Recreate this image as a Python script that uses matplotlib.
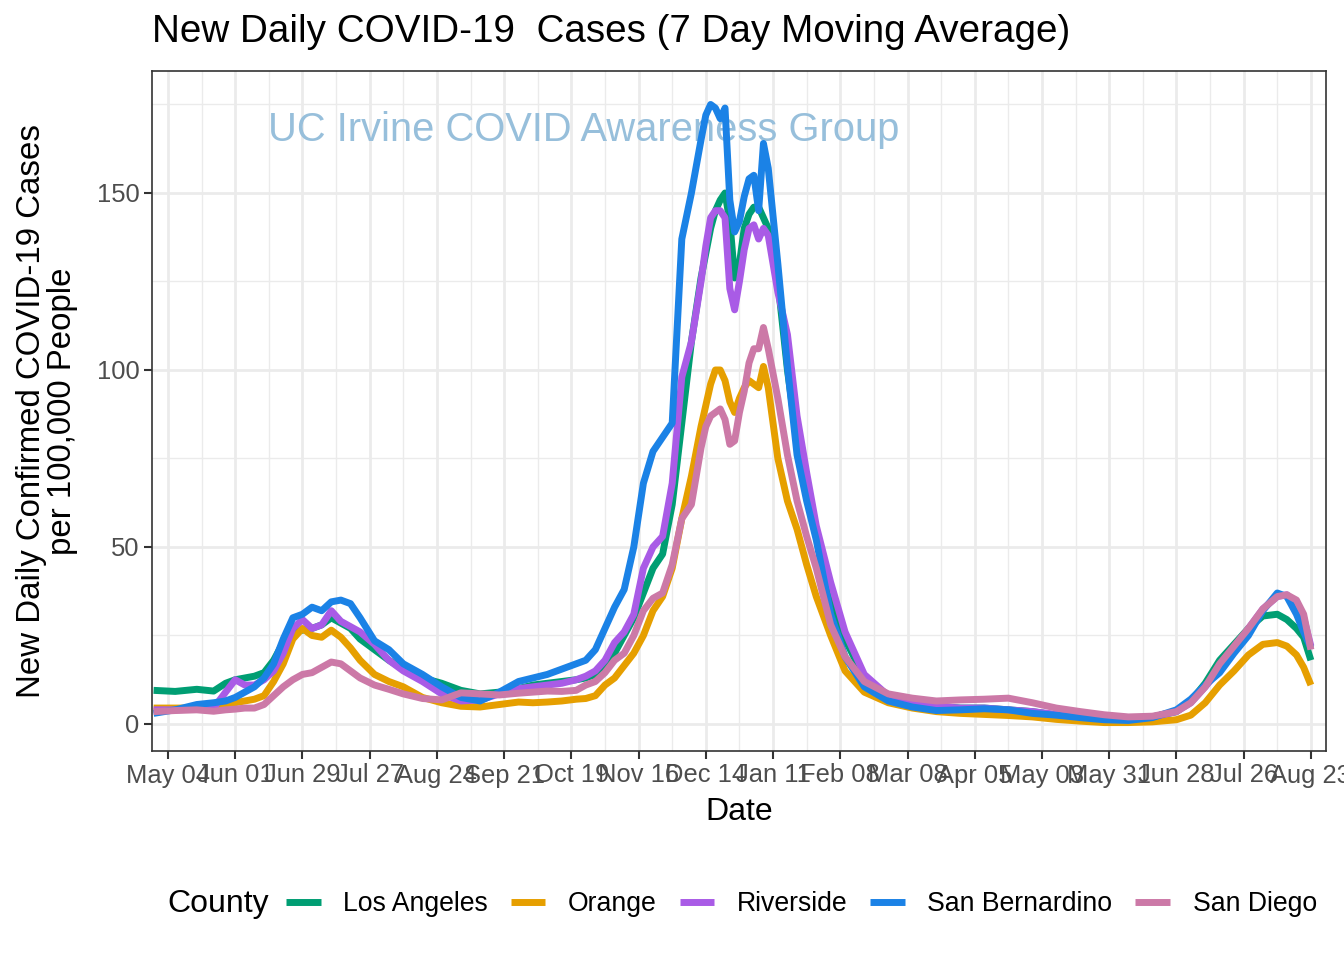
import numpy as np
import pandas as pd
import matplotlib
matplotlib.use("Agg")
import matplotlib.pyplot as plt
import matplotlib.dates as mdates

plt.rcParams['font.family'] = ['Liberation Sans', 'DejaVu Sans']

# 7-day moving average of new daily cases per 100,000 people
dates = [
    "2020-04-28", "2020-05-07", "2020-05-16", "2020-05-23", "2020-05-28", "2020-06-01",
    "2020-06-05", "2020-06-09", "2020-06-13", "2020-06-17", "2020-06-21", "2020-06-25",
    "2020-06-29", "2020-07-03", "2020-07-07", "2020-07-11", "2020-07-15", "2020-07-19",
    "2020-07-23", "2020-07-29", "2020-08-04", "2020-08-10", "2020-08-18", "2020-08-26",
    "2020-09-03", "2020-09-11", "2020-09-19", "2020-09-27", "2020-10-03", "2020-10-09",
    "2020-10-15", "2020-10-21", "2020-10-25", "2020-10-29", "2020-11-02", "2020-11-06",
    "2020-11-10", "2020-11-14", "2020-11-18", "2020-11-22", "2020-11-26", "2020-11-30",
    "2020-12-04", "2020-12-08", "2020-12-12", "2020-12-14", "2020-12-16", "2020-12-18",
    "2020-12-20", "2020-12-22", "2020-12-24", "2020-12-26", "2020-12-28", "2020-12-30",
    "2021-01-01", "2021-01-03", "2021-01-05", "2021-01-07", "2021-01-09", "2021-01-13",
    "2021-01-17", "2021-01-21", "2021-01-25", "2021-01-29", "2021-02-04", "2021-02-10",
    "2021-02-18", "2021-02-28", "2021-03-10", "2021-03-20", "2021-03-30", "2021-04-09",
    "2021-04-19", "2021-04-29", "2021-05-09", "2021-05-19", "2021-05-29", "2021-06-08",
    "2021-06-18", "2021-06-28", "2021-07-04", "2021-07-10", "2021-07-16", "2021-07-22",
    "2021-07-28", "2021-08-03", "2021-08-09", "2021-08-13", "2021-08-17", "2021-08-20",
    "2021-08-23",
]

los_angeles = [
    9.5, 9.2, 9.8, 9.3, 11.5, 12.5, 13.0, 13.5, 14.5, 18, 23, 26,
    26.5, 27, 28, 30, 28.5, 27, 24, 21, 18, 15.5, 13, 11.5,
    9.5, 8.5, 9, 10, 11, 11.5, 12, 12.5, 13, 14, 17, 20,
    25, 30, 37, 44, 48, 62, 85, 108, 126, 133, 140, 145,
    148, 150, 142, 126, 130, 140, 144, 146, 146, 143, 140, 125,
    100, 80, 66, 54, 36, 24, 13, 8, 6, 5, 4.5, 4.5,
    4, 3.5, 2.5, 2, 1.7, 1.6, 2, 3.5, 6.5, 11.5, 18, 22.5,
    27, 30.5, 31, 29.5, 27, 24.5, 18,
]

orange = [
    4.5, 4.5, 4.5, 4.5, 5, 6, 6.5, 7, 8, 12, 17, 24,
    27, 25, 24.5, 26.5, 24.5, 21.5, 18, 14, 12, 10.5, 7.5, 6,
    5, 4.8, 5.5, 6.2, 6, 6.2, 6.5, 7, 7.2, 8, 11, 13,
    16.5, 20, 25, 32, 36, 44, 58, 70, 84, 90, 96, 100,
    100, 97, 91, 88, 92, 95, 97, 96, 95, 101, 95, 75,
    63, 55, 45, 36, 25, 15, 9, 6, 4.5, 3.5, 3, 2.7,
    2.4, 2, 1.3, 0.8, 0.4, 0.4, 0.6, 1.2, 2.5, 6, 11, 15,
    19.5, 22.5, 23, 22, 19.5, 16, 11,
]

riverside = [
    4, 4, 4.2, 4.5, 9, 12.5, 11, 11, 12.5, 15, 20, 27,
    29.5, 27, 28, 32, 29, 27.5, 26, 22.5, 18, 15, 12, 8.5,
    6.5, 6.8, 8.5, 10, 10.5, 11, 11.5, 12.5, 13.5, 15, 18, 23,
    26, 31, 44, 50, 53, 68, 98, 108, 125, 135, 143, 145,
    145, 143, 123, 117, 125, 134, 140, 141, 137, 140, 138, 122,
    110, 87, 71, 56, 40, 26, 14, 8, 6, 5, 4.5, 4.5,
    4, 3.5, 2.7, 2, 1.6, 1.5, 2, 3.5, 6, 10.5, 15.5, 21,
    27, 32.5, 36, 36.5, 34, 30, 22,
]

san_bernardino = [
    3, 4, 5.5, 6, 6.5, 7.5, 9, 10.5, 13, 17, 24, 30,
    31, 33, 32, 34.5, 35, 34, 30, 23.5, 21, 17, 14, 10.5,
    7.5, 6.5, 9, 12, 13, 14, 15.5, 17, 18, 21, 27, 33,
    38, 50, 68, 77, 81, 85, 137, 150, 165, 172, 175, 174,
    171, 174, 148, 139, 142, 149, 154, 155, 145, 164, 157, 130,
    101, 76, 63, 52, 31, 19, 10.5, 6.5, 4.8, 3.8, 4, 4.3,
    4, 3, 2.5, 1.8, 1.2, 1, 1.8, 4, 7, 11, 14.5, 20,
    25, 32, 37, 36, 31, 26, 21.5,
]

san_diego = [
    3.5, 3.8, 4, 3.6, 4, 4.2, 4.5, 4.5, 5.5, 8, 10.5, 12.5,
    14, 14.5, 16, 17.5, 17, 15, 13, 11, 9.8, 8.5, 7.2, 6.8,
    8.8, 8.5, 8.2, 8.7, 9, 9.3, 9.2, 9.5, 11, 12, 14.5, 18,
    20, 25, 32, 35.5, 37, 45, 58, 62, 78, 84, 87, 88,
    89, 86, 79, 80, 88, 94, 102, 106, 106, 112, 106, 92,
    76, 63, 53, 44, 28, 19, 12, 8.5, 7.3, 6.5, 6.8, 7,
    7.3, 6, 4.5, 3.5, 2.6, 2, 2.2, 3.5, 6, 10.5, 17, 22,
    27, 32.5, 36, 36.5, 35, 31, 21,
]

counties = ["Los Angeles", "Orange", "Riverside", "San Bernardino", "San Diego"]
colors = ["#009E73", "#E69F00", "#A95BE6", "#1B82E6", "#CC79A7"]

x = pd.to_datetime(dates)
series = [los_angeles, orange, riverside, san_bernardino, san_diego]

W, H = 1344, 960
fig = plt.figure(figsize=(W / 100, H / 100), dpi=100)
ax = fig.add_axes([152 / W, 1 - 751 / H, (1326 - 152) / W, (751 - 71) / H])

# watermark sits beneath the lines
ax.text(pd.Timestamp("2020-10-24"), 167.8, "UC Irvine COVID Awareness Group",
        color="#97BFDB", fontsize=28.7, ha="center", va="center", zorder=1)

for name, vals, c in zip(counties, series, colors):
    ax.plot(x, vals, color=c, lw=5.0, label=name, solid_joinstyle="round",
            solid_capstyle="butt", zorder=3)

major = pd.date_range("2020-05-04", "2021-08-23", freq="28D")
minor = pd.date_range("2020-04-20", "2021-09-06", freq="28D")
ax.set_xticks(major)
ax.set_xticks(minor, minor=True)
ax.xaxis.set_major_formatter(mdates.DateFormatter("%b %d"))
ax.set_yticks([0, 50, 100, 150])
ax.set_yticks([25, 75, 125, 175], minor=True)

# limits after the ticks, so the minor ticks don't widen the view
ax.set_xlim(pd.Timestamp("2020-05-04") - pd.Timedelta(days=6.66),
            pd.Timestamp("2020-05-04") + pd.Timedelta(days=482.3))
ax.set_ylim(-7.63, 184.46)

ax.grid(which="major", color="#EBEBEB", lw=2.0, zorder=0)
ax.grid(which="minor", color="#EBEBEB", lw=1.0, zorder=0)
ax.set_axisbelow(True)

ax.tick_params(which="major", length=6, width=1.5, color="#333333",
               labelsize=18.4, labelcolor="#4D4D4D", pad=3)
ax.tick_params(which="minor", length=0)
for s in ax.spines.values():
    s.set_color("#333333")
    s.set_linewidth(1.2)

fig.text(152 / W, 1 - 32 / H, "New Daily COVID-19  Cases (7 Day Moving Average)",
         fontsize=27.8, ha="left", va="center")
fig.text(739 / W, 1 - 812 / H, "Date", fontsize=23, ha="center", va="center")
fig.text(47 / W, 1 - 411 / H, "New Daily Confirmed COVID-19 Cases\nper 100,000 People",
         fontsize=23.8, rotation=90, ha="center", va="center", linespacing=1.0)

fig.text(167 / W, 1 - 904 / H, "County", fontsize=23, ha="left", va="center")
leg = fig.legend(*ax.get_legend_handles_labels(), loc="center left",
                 bbox_to_anchor=(286 / W, 1 - 904 / H), ncol=5, frameon=False,
                 fontsize=19.2, handlelength=1.3, handletextpad=0.85,
                 columnspacing=0.85, borderpad=0, borderaxespad=0)
for h in leg.get_lines():
    h.set_linewidth(5)

fig.savefig("out.png", dpi=100)
